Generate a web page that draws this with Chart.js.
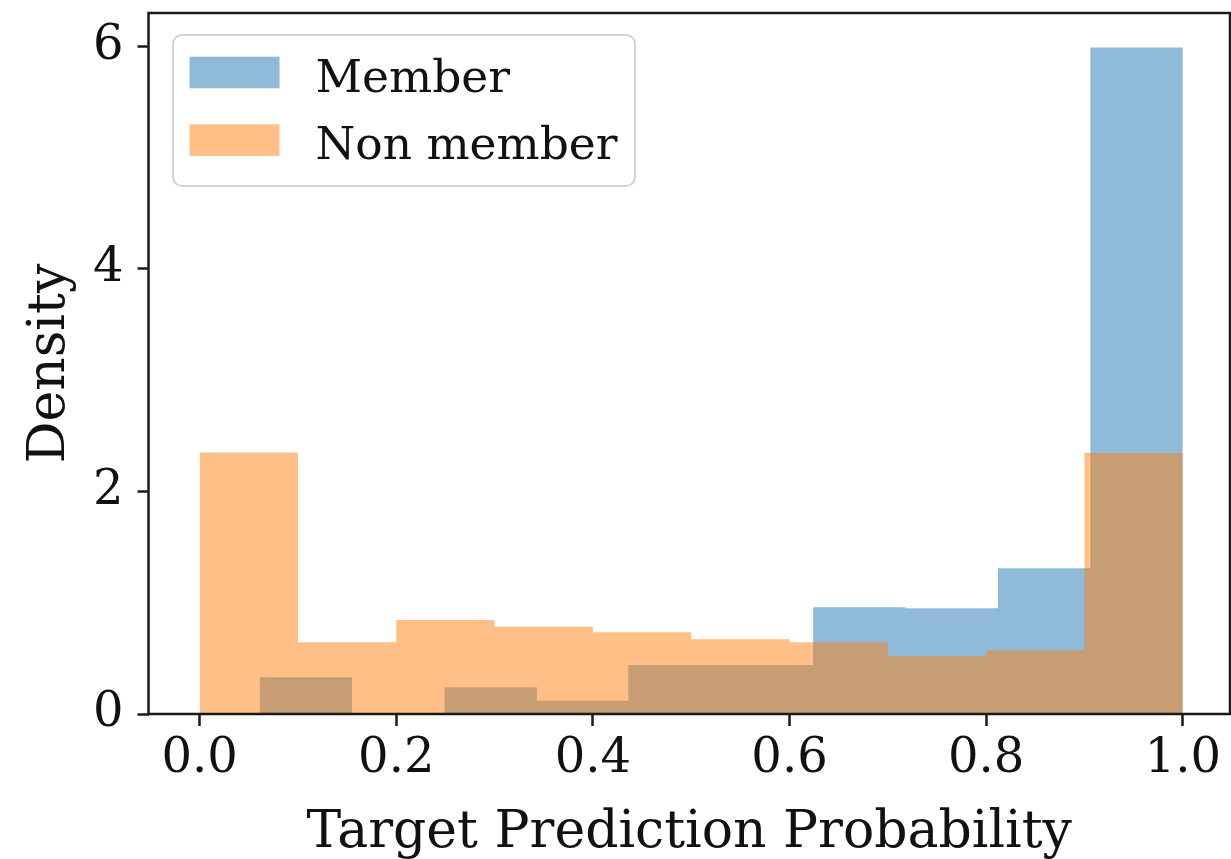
<!DOCTYPE html>
<html>
<head>
<meta charset="utf-8">
<script src="https://cdn.jsdelivr.net/npm/chart.js@4.4.1/dist/chart.umd.min.js"></script>
<style>
  html, body { margin: 0; padding: 0; background: #ffffff; }
  #wrap { width: 1231px; height: 859px; position: relative; }
</style>
</head>
<body>
<div id="wrap"><canvas id="c" width="1231" height="859"></canvas></div>
<script>
// ---- data ----
const seriesLabels = ["Member", "Non member"];
const memberEdges = [0.061, 0.155, 0.249, 0.343, 0.436, 0.530, 0.624, 0.718, 0.812, 0.906, 1.0];
const memberDensity = [0.33, 0.0, 0.24, 0.12, 0.44, 0.44, 0.96, 0.95, 1.31, 5.99];
const nonMemberEdges = [0.0, 0.1, 0.2, 0.3, 0.4, 0.5, 0.6, 0.7, 0.8, 0.9, 1.0];
const nonMemberDensity = [2.35, 0.645, 0.845, 0.785, 0.735, 0.672, 0.645, 0.52, 0.572, 2.345];
const xTickValues = [0.0, 0.2, 0.4, 0.6, 0.8, 1.0];
const yTickValues = [0, 2, 4, 6];
const xTitle = "Target Prediction Probability";
const yTitle = "Density";

const memberColor = "rgba(31,119,180,0.5)";
const nonMemberColor = "rgba(255,127,14,0.5)";
const FONT = "'DejaVu Serif', serif";
const TICK_SIZE = 48;
const LEGEND_SIZE = 45.5;
const TITLE_SIZE = 52;

function stepPoints(edges, vals) {
  const pts = vals.map((v, i) => ({ x: edges[i], y: v }));
  pts.push({ x: edges[edges.length - 1], y: vals[vals.length - 1] });
  return pts;
}

const frameAndLegend = {
  id: 'frameAndLegend',
  afterDatasetsDraw(chart) {
    const c = chart.ctx;
    const a = chart.chartArea;
    c.save();
    // spines
    c.strokeStyle = '#1a1a1a';
    c.lineWidth = 2.5;
    c.strokeRect(a.left, a.top, a.right - a.left, a.bottom - a.top);
    // legend frame
    const bx = a.left + 24.5, by = a.top + 22, bw = 462, bh = 151, r = 9;
    c.beginPath();
    c.moveTo(bx + r, by);
    c.lineTo(bx + bw - r, by);
    c.arcTo(bx + bw, by, bx + bw, by + r, r);
    c.lineTo(bx + bw, by + bh - r);
    c.arcTo(bx + bw, by + bh, bx + bw - r, by + bh, r);
    c.lineTo(bx + r, by + bh);
    c.arcTo(bx, by + bh, bx, by + bh - r, r);
    c.lineTo(bx, by + r);
    c.arcTo(bx, by, bx + r, by, r);
    c.closePath();
    c.fillStyle = 'rgba(255,255,255,0.8)';
    c.fill();
    c.strokeStyle = '#d3d3d3';
    c.lineWidth = 2;
    c.stroke();
    // entries
    const rows = [
      { ds: chart.data.datasets[0], py: 21.7, base: 56.5 },
      { ds: chart.data.datasets[1], py: 89.3, base: 124 }
    ];
    c.font = LEGEND_SIZE + "px " + FONT;
    c.textBaseline = 'alphabetic';
    c.textAlign = 'left';
    rows.forEach(rw => {
      c.fillStyle = rw.ds.backgroundColor;
      c.fillRect(bx + 16.5, by + rw.py, 90, 31.6);
      c.fillStyle = '#111';
      c.fillText(rw.ds.label, bx + 142.5, by + rw.base);
    });
    c.restore();
  }
};

new Chart(document.getElementById('c'), {
  type: 'line',
  data: {
    datasets: [
      {
        label: seriesLabels[0],
        data: stepPoints(memberEdges, memberDensity),
        stepped: 'before',
        fill: 'origin',
        backgroundColor: memberColor,
        borderColor: 'rgba(0,0,0,0)',
        borderWidth: 0,
        pointRadius: 0,
        order: 2
      },
      {
        label: seriesLabels[1],
        data: stepPoints(nonMemberEdges, nonMemberDensity),
        stepped: 'before',
        fill: 'origin',
        backgroundColor: nonMemberColor,
        borderColor: 'rgba(0,0,0,0)',
        borderWidth: 0,
        pointRadius: 0,
        order: 1
      }
    ]
  },
  options: {
    responsive: false,
    animation: false,
    events: [],
    layout: { padding: { top: 13, right: 1, left: 0, bottom: 0 } },
    plugins: {
      legend: { display: false },
      tooltip: { enabled: false }
    },
    scales: {
      x: {
        type: 'linear',
        min: -0.052,
        max: 1.048,
        afterBuildTicks: s => { s.ticks = xTickValues.map(v => ({ value: v })); },
        afterFit: s => { s.height = 145; s.paddingLeft = 0; s.paddingRight = 0; },
        ticks: {
          callback: v => Number(v).toFixed(1),
          color: '#111',
          font: { family: FONT, size: TICK_SIZE },
          padding: 5,
          maxRotation: 0,
          autoSkip: false
        },
        grid: {
          display: true,
          drawOnChartArea: false,
          drawTicks: true,
          tickLength: 12,
          tickColor: '#1a1a1a',
          tickWidth: 2.5
        },
        border: { display: false },
        title: {
          display: true,
          text: xTitle,
          color: '#111',
          font: { family: FONT, size: TITLE_SIZE, lineHeight: 1 },
          padding: { top: 0, bottom: 0 }
        }
      },
      y: {
        type: 'linear',
        min: 0,
        max: 6.3,
        afterBuildTicks: s => { s.ticks = yTickValues.map(v => ({ value: v })); },
        afterFit: s => { s.width = 148.5; s.paddingTop = 0; s.paddingBottom = 0; },
        ticks: {
          callback: v => String(v),
          color: '#111',
          font: { family: FONT, size: TICK_SIZE },
          padding: 14
        },
        grid: {
          display: true,
          drawOnChartArea: false,
          drawTicks: true,
          tickLength: 11,
          tickColor: '#1a1a1a',
          tickWidth: 2.5
        },
        border: { display: false },
        title: {
          display: true,
          text: yTitle,
          color: '#111',
          font: { family: FONT, size: TITLE_SIZE, lineHeight: 1 },
          padding: { top: 24, bottom: 0 }
        }
      }
    }
  },
  plugins: [frameAndLegend]
});
</script>
</body>
</html>
